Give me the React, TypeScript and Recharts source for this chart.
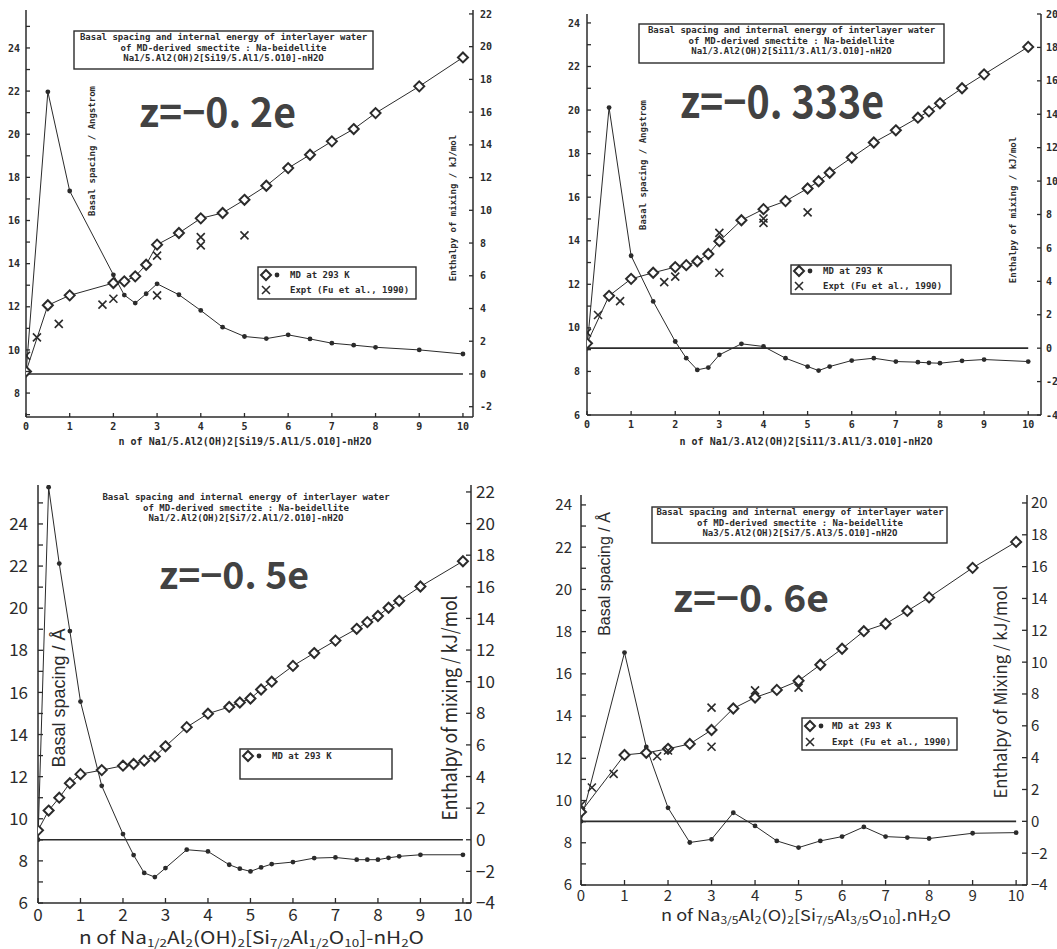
import React from "react";
import { ComposedChart, Line, Scatter, XAxis, YAxis, ReferenceLine } from "recharts";

const INK = "#2b2b2b";
const MONO = "'DejaVu Sans Mono', 'Liberation Mono', monospace";
const GOTHIC = "'Noto Sans CJK JP', 'Noto Sans', 'Liberation Sans', sans-serif";

// z = -0.2e
const n1 = [0, 0.5, 1, 2, 2.25, 2.5, 2.75, 3, 3.5, 4, 4.5, 5, 5.5, 6, 6.5, 7, 7.5, 8, 9, 10];
const spacing1 = [9.0, 12.07, 12.53, 13.1, 13.18, 13.41, 13.95, 14.88, 15.42, 16.1, 16.35, 16.96, 17.61, 18.43, 19.05, 19.67, 20.24, 20.98, 22.22, 23.56];
const enthalpy1 = [0, 17.24, 11.18, 6.06, 4.82, 4.33, 4.9, 5.51, 4.84, 3.88, 2.86, 2.29, 2.16, 2.39, 2.14, 1.88, 1.76, 1.63, 1.47, 1.22];
const exptN1 = [0, 0.25, 0.75, 1.75, 2, 3, 3, 4, 4, 5];
const exptD1 = [9.73, 10.58, 11.21, 12.1, 12.37, 14.37, 12.53, 15.23, 14.85, 15.31];

// z = -0.333e
const n2 = [0, 0.5, 1, 1.5, 2, 2.25, 2.5, 2.75, 3, 3.5, 4, 4.5, 5, 5.25, 5.5, 6, 6.5, 7, 7.5, 7.75, 8, 8.5, 9, 10];
const spacing2 = [9.29, 11.47, 12.25, 12.53, 12.79, 12.88, 13.06, 13.39, 13.98, 14.94, 15.45, 15.82, 16.4, 16.73, 17.12, 17.82, 18.51, 19.07, 19.65, 19.94, 20.31, 21.0, 21.64, 22.9];
const enthalpy2 = [0, 14.4, 5.53, 2.8, 0.4, -0.6, -1.3, -1.16, -0.4, 0.26, 0.1, -0.6, -1.1, -1.34, -1.1, -0.74, -0.6, -0.8, -0.84, -0.88, -0.9, -0.76, -0.68, -0.8];
const exptN2 = [0, 0.25, 0.75, 1.75, 2, 3, 3, 4, 4, 5];
const exptD2 = [9.78, 10.59, 11.23, 12.1, 12.35, 14.36, 12.53, 15.02, 14.82, 15.3];

// z = -0.5e
const n3 = [0, 0.25, 0.5, 0.75, 1, 1.5, 2, 2.25, 2.5, 2.75, 3, 3.5, 4, 4.5, 4.75, 5, 5.25, 5.5, 6, 6.5, 7, 7.5, 7.75, 8, 8.25, 8.5, 9, 10];
const spacing3 = [9.45, 10.39, 11.0, 11.69, 12.12, 12.31, 12.52, 12.6, 12.76, 12.96, 13.44, 14.35, 14.99, 15.31, 15.52, 15.71, 16.14, 16.51, 17.26, 17.87, 18.46, 19.02, 19.34, 19.63, 20.02, 20.35, 21.03, 22.23];
const enthalpy3 = [0, 22.3, 17.47, 13.2, 8.74, 3.41, 0.36, -0.97, -2.1, -2.36, -1.79, -0.63, -0.74, -1.58, -1.83, -2.0, -1.75, -1.54, -1.41, -1.16, -1.12, -1.26, -1.26, -1.26, -1.14, -1.05, -0.95, -0.95];

// z = -0.6e
const n4 = [0, 1, 1.5, 2, 2.5, 3, 3.5, 4, 4.5, 5, 5.5, 6, 6.5, 7, 7.5, 8, 9, 10];
const spacing4 = [9.46, 12.16, 12.26, 12.45, 12.68, 13.34, 14.36, 14.88, 15.24, 15.67, 16.43, 17.19, 18.02, 18.37, 18.98, 19.62, 21.02, 22.25];
const enthalpy4 = [0, 10.6, 4.67, 0.85, -1.33, -1.13, 0.54, -0.29, -1.23, -1.65, -1.23, -0.96, -0.35, -0.96, -1.02, -1.08, -0.75, -0.71];
const exptN4 = [0, 0.25, 0.75, 1.75, 2, 3, 3, 4, 5];
const exptD4 = [9.78, 10.62, 11.26, 12.1, 12.37, 14.4, 12.55, 15.22, 15.35];

const xTicks = [0, 1, 2, 3, 4, 5, 6, 7, 8, 9, 10];
const leftTicks1 = [7, 8, 9, 10, 11, 12, 13, 14, 15, 16, 17, 18, 19, 20, 21, 22, 23, 24, 25];
const rightTicks1 = [-2, 0, 2, 4, 6, 8, 10, 12, 14, 16, 18, 20, 22];
const leftTicks2 = [6, 7, 8, 9, 10, 11, 12, 13, 14, 15, 16, 17, 18, 19, 20, 21, 22, 23, 24];
const rightTicks2 = [-4, -2, 0, 2, 4, 6, 8, 10, 12, 14, 16, 18, 20];
const leftTicks3 = [6, 7, 8, 9, 10, 11, 12, 13, 14, 15, 16, 17, 18, 19, 20, 21, 22, 23, 24, 25];
const rightTicks3 = [-4, -2, 0, 2, 4, 6, 8, 10, 12, 14, 16, 18, 20, 22];
const leftTicks4 = [6, 7, 8, 9, 10, 11, 12, 13, 14, 15, 16, 17, 18, 19, 20, 21, 22, 23, 24];
const rightTicks4 = [-4, -2, 0, 2, 4, 6, 8, 10, 12, 14, 16, 18, 20];

// axis titles with subscripts: [text, isSubscript]
const formula3: [string, boolean][] = [["n of Na", false], ["1/2", true], ["Al", false], ["2", true], ["(OH)", false], ["2", true], ["[Si", false], ["7/2", true], ["Al", false], ["1/2", true], ["O", false], ["10", true], ["]-nH", false], ["2", true], ["O", false]];
const formula4: [string, boolean][] = [["n of Na", false], ["3/5", true], ["Al", false], ["2", true], ["(O)", false], ["2", true], ["[Si", false], ["7/5", true], ["Al", false], ["3/5", true], ["O", false], ["10", true], ["].nH", false], ["2", true], ["O", false]];

const Diamond = ({ cx, cy }: any) =>
  cx == null || cy == null ? null : (
    <path d={`M${cx},${cy - 5}L${cx + 5},${cy}L${cx},${cy + 5}L${cx - 5},${cy}Z`} fill="#fff" stroke={INK} strokeWidth={2} />
  );

const Dot = ({ cx, cy }: any) => (cx == null || cy == null ? null : <circle cx={cx} cy={cy} r={2.4} fill={INK} />);

const Cross = ({ cx, cy }: any) =>
  cx == null || cy == null ? null : (
    <path d={`M${cx - 4},${cy - 4}L${cx + 4},${cy + 4}M${cx - 4},${cy + 4}L${cx + 4},${cy - 4}`} stroke={INK} strokeWidth={1.6} />
  );

type TickStyle = {
  font: string;
  size: number;
  weight: number;
  gapL: number;
  gapR: number;
  gapX: number;
  len: number;
  minus: string;
};

const fmt = (v: number, minus: string) => (v < 0 ? minus + Math.abs(v) : String(v));

const yTick = (side: "left" | "right", st: TickStyle, labelled: (v: number) => boolean) => (p: any) => {
  const v = p.payload.value;
  const gap = side === "left" ? st.gapL : st.gapR;
  const ax = side === "left" ? p.x + gap : p.x - gap;
  const end = side === "left" ? ax + st.len : ax - st.len;
  return (
    <g key={`${side}-${v}`}>
      <line x1={ax} y1={p.y} x2={end} y2={p.y} stroke={INK} strokeWidth={1.3} />
      {labelled(v) && (
        <text x={p.x} y={p.y} dy="0.36em" textAnchor={side === "left" ? "end" : "start"} fontFamily={st.font} fontSize={st.size} fontWeight={st.weight} fill={INK}>
          {fmt(v, st.minus)}
        </text>
      )}
    </g>
  );
};

const xTick = (st: TickStyle) => (p: any) => {
  const v = p.payload.value;
  const ay = p.y - st.gapX;
  return (
    <g key={`x-${v}`}>
      <line x1={p.x} y1={ay} x2={p.x} y2={ay - st.len} stroke={INK} strokeWidth={1.3} />
      <text x={p.x} y={p.y} dy="0.74em" textAnchor="middle" fontFamily={st.font} fontSize={st.size} fontWeight={st.weight} fill={INK}>
        {v}
      </text>
    </g>
  );
};

interface PanelProps {
  left: number;
  top: number;
  width: number;
  height: number;
  margin: { top: number; right: number; bottom: number; left: number };
  lw: number;
  rw: number;
  xh: number;
  xMax: number;
  lDom: [number, number];
  rDom: [number, number];
  lTicks: number[];
  rTicks: number[];
  st: TickStyle;
  n: number[];
  spacing: number[];
  enthalpy: number[];
  exptN?: number[];
  exptD?: number[];
}

const Panel = (p: PanelProps) => {
  const rows = p.n.map((v, i) => ({ n: v, d: p.spacing[i], e: p.enthalpy[i] }));
  const expt = (p.exptN || []).map((v, i) => ({ n: v, d: (p.exptD || [])[i] }));
  const axisStyle = { stroke: INK, strokeWidth: 1.5 };
  return (
    <div style={{ position: "absolute", left: p.left, top: p.top }}>
      <ComposedChart width={p.width} height={p.height} data={rows} margin={p.margin}>
        <XAxis
          type="number"
          dataKey="n"
          domain={[0, p.xMax]}
          allowDataOverflow
          ticks={xTicks}
          interval={0}
          height={p.xh}
          tickSize={0}
          tickMargin={p.st.gapX}
          tickLine={false}
          axisLine={axisStyle}
          tick={xTick(p.st)}
        />
        <YAxis
          yAxisId="left"
          type="number"
          domain={p.lDom}
          allowDataOverflow
          ticks={p.lTicks}
          interval={0}
          width={p.lw}
          tickSize={0}
          tickMargin={p.st.gapL}
          tickLine={false}
          axisLine={axisStyle}
          tick={yTick("left", p.st, (v) => v % 2 === 0)}
        />
        <YAxis
          yAxisId="right"
          orientation="right"
          type="number"
          domain={p.rDom}
          allowDataOverflow
          ticks={p.rTicks}
          interval={0}
          width={p.rw}
          tickSize={0}
          tickMargin={p.st.gapR}
          tickLine={false}
          axisLine={axisStyle}
          tick={yTick("right", p.st, () => true)}
        />
        <ReferenceLine yAxisId="right" segment={[{ x: 0, y: 0 }, { x: 10, y: 0 }]} stroke={INK} strokeWidth={1.6} />
        <Line
          yAxisId="right"
          type="linear"
          dataKey="e"
          stroke={INK}
          strokeWidth={1}
          dot={(d: any) => <Dot key={`e${d.index}`} cx={d.cx} cy={d.cy} />}
          activeDot={false}
          isAnimationActive={false}
        />
        <Line
          yAxisId="left"
          type="linear"
          dataKey="d"
          stroke={INK}
          strokeWidth={1}
          dot={(d: any) => <Diamond key={`d${d.index}`} cx={d.cx} cy={d.cy} />}
          activeDot={false}
          isAnimationActive={false}
        />
        {expt.length > 0 && (
          <Scatter
            yAxisId="left"
            data={expt}
            dataKey="d"
            shape={(s: any) => <Cross cx={s.cx} cy={s.cy} />}
            isAnimationActive={false}
          />
        )}
      </ComposedChart>
    </div>
  );
};

const monoTick: TickStyle = { font: MONO, size: 10, weight: 700, gapL: 6, gapR: 7, gapX: 6, len: 4, minus: "-" };

const MonoText = ({ x, y, children, size = 9, anchor = "middle", rotate = false }: any) => (
  <text
    x={x}
    y={y}
    dy="0.35em"
    textAnchor={anchor}
    fontFamily={MONO}
    fontSize={size}
    fontWeight={700}
    fill={INK}
    transform={rotate ? `rotate(-90 ${x} ${y})` : undefined}
  >
    {children}
  </text>
);

const BigZ = ({ x, y, w, size, children }: any) => (
  <text x={x} y={y} textLength={w} lengthAdjust="spacingAndGlyphs" fontFamily={GOTHIC} fontSize={size} fontWeight={700} fill="#424242">
    {children}
  </text>
);

const SideTitle = ({ x, y, len, size, children }: any) => (
  <text
    x={x}
    y={y}
    dy="0.35em"
    textAnchor="middle"
    fontFamily={GOTHIC}
    fontSize={size}
    fill={INK}
    textLength={len}
    lengthAdjust="spacingAndGlyphs"
    transform={`rotate(-90 ${x} ${y})`}
  >
    {children}
  </text>
);

// "Basal spacing / Å" drawn without stretching, so the ring of Å stays on its letter
const SpacingTitle = ({ x, y, size }: any) => (
  <text
    x={x}
    y={y}
    dy="0.35em"
    textAnchor="middle"
    fontFamily="'Liberation Sans', 'DejaVu Sans', sans-serif"
    fontSize={size}
    fill={INK}
    transform={`rotate(-90 ${x} ${y})`}
  >
    Basal spacing / Å
  </text>
);

const Formula = ({ x, y, len, size, subSize, shift, parts }: any) => (
  <text x={x} y={y} fontFamily={GOTHIC} fontSize={size} fill={INK} textLength={len} lengthAdjust="spacingAndGlyphs">
    {parts.map(([t, sub]: [string, boolean], i: number) => {
      const prev = i > 0 && parts[i - 1][1];
      const dy = (sub ? shift : 0) - (prev ? shift : 0);
      return (
        <tspan key={i} dy={dy} fontSize={sub ? subSize : size}>
          {t}
        </tspan>
      );
    })}
  </text>
);

const TitleBlock = ({ cx, y0, formula, box }: any) => (
  <g>
    {box && <rect x={box[0]} y={box[1]} width={box[2]} height={box[3]} fill="#fff" stroke={INK} strokeWidth={1.4} />}
    <MonoText x={cx} y={y0}>Basal spacing and internal energy of interlayer water</MonoText>
    <MonoText x={cx} y={y0 + 10.5}>of MD-derived smectite : Na-beidellite</MonoText>
    <MonoText x={cx} y={y0 + 21}>{formula}</MonoText>
  </g>
);

const LegendBox = ({ x, y, w, h, r1, r2, expt, dx }: any) => (
  <g>
    <rect x={x} y={y} width={w} height={h} fill="#fff" stroke={INK} strokeWidth={1.4} />
    <Diamond cx={x + 8} cy={r1} />
    <Dot cx={x + 19} cy={r1} />
    <MonoText x={x + dx} y={r1} anchor="start">MD  at 293 K</MonoText>
    {expt && <Cross cx={x + 8} cy={r2} />}
    {expt && (
      <MonoText x={x + dx} y={r2} anchor="start">
        Expt (Fu et al., 1990)
      </MonoText>
    )}
  </g>
);

const Overlay = () => (
  <svg width={1057} height={949} style={{ position: "absolute", left: 0, top: 0, pointerEvents: "none" }}>
    {/* top left */}
    <TitleBlock cx={223.5} y0={37} box={[74, 31, 299, 38]} formula="Na1/5.Al2(OH)2[Si19/5.Al1/5.O10]-nH2O" />
    <BigZ x={139} y={127} w={157} size={40}>z=−0. 2e</BigZ>
    <MonoText x={92} y={151} rotate>Basal spacing / Angstrom</MonoText>
    <MonoText x={453} y={208} rotate>Enthalpy of mixing / kJ/mol</MonoText>
    <LegendBox x={258} y={267} w={158} h={32} r1={275} r2={290} expt dx={32} />
    <MonoText x={245} y={441} size={10}>n of Na1/5.Al2(OH)2[Si19/5.Al1/5.O10]-nH2O</MonoText>

    {/* top right */}
    <TitleBlock cx={791.5} y0={30} box={[639, 24, 305, 39]} formula="Na1/3.Al2(OH)2[Si11/3.Al1/3.O10]-nH2O" />
    <BigZ x={680} y={118} w={204} size={44}>z=−0. 333e</BigZ>
    <MonoText x={643} y={165} rotate>Basal spacing / Angstrom</MonoText>
    <MonoText x={1013} y={210} rotate>Enthalpy of mixing / kJ/mol</MonoText>
    <LegendBox x={791} y={265} w={160} h={29} r1={271} r2={286} expt dx={32} />
    <MonoText x={806} y={441} size={10}>n of Na1/3.Al2(OH)2[Si11/3.Al1/3.O10]-nH2O</MonoText>

    {/* bottom left */}
    <TitleBlock cx={246} y0={497} formula="Na1/2.Al2(OH)2[Si7/2.Al1/2.O10]-nH2O" />
    <BigZ x={159} y={589} w={150} size={37}>z=−0. 5e</BigZ>
    <SpacingTitle x={59} y={698} size={18} />
    <SideTitle x={450} y={708} len={225} size={20}>Enthalpy of mixing / kJ/mol</SideTitle>
    <LegendBox x={240} y={749} w={152} h={30} r1={756} r2={771} dx={32} />
    <Formula x={79} y={944} len={345} size={17} subSize={11} shift={3} parts={formula3} />

    {/* bottom right */}
    <TitleBlock cx={800} y0={512} box={[652, 507, 295, 36]} formula="Na3/5.Al2(OH)2[Si7/5.Al3/5.O10]-nH2O" />
    <BigZ x={673} y={612} w={156} size={37}>z=−0. 6e</BigZ>
    <SpacingTitle x={604} y={574} size={16} />
    <SideTitle x={1001} y={692} len={213} size={17}>Enthalpy of Mixing / kJ/mol</SideTitle>
    <LegendBox x={802} y={718} w={155} h={32} r1={726} r2={742} expt dx={30} />
    <Formula x={661} y={921} len={290} size={15} subSize={10} shift={3} parts={formula4} />
  </svg>
);

export default function App() {
  return (
    <div style={{ position: "absolute", left: 0, top: 0, width: 1057, height: 949, background: "#fff" }}>
      <Panel
        left={0}
        top={0}
        width={530}
        height={450}
        margin={{ top: 10, right: 7, bottom: 10, left: 0 }}
        lw={26}
        rw={50}
        xh={23}
        xMax={10.23}
        lDom={[6.89, 25.76]}
        rDom={[-2.63, 22.24]}
        lTicks={leftTicks1}
        rTicks={rightTicks1}
        st={monoTick}
        n={n1}
        spacing={spacing1}
        enthalpy={enthalpy1}
        exptN={exptN1}
        exptD={exptD1}
      />
      <Panel
        left={530}
        top={0}
        width={527}
        height={450}
        margin={{ top: 14, right: 0, bottom: 10, left: 0 }}
        lw={57}
        rw={16}
        xh={25}
        xMax={10.29}
        lDom={[6, 24.41]}
        rDom={[-4, 20]}
        lTicks={leftTicks2}
        rTicks={rightTicks2}
        st={{ ...monoTick, gapL: 7, gapR: 5 }}
        n={n2}
        spacing={spacing2}
        enthalpy={enthalpy2}
        exptN={exptN2}
        exptD={exptD2}
      />
      <Panel
        left={0}
        top={470}
        width={530}
        height={479}
        margin={{ top: 15, right: 9, bottom: 20, left: 0 }}
        lw={38}
        rw={50}
        xh={26}
        xMax={10.19}
        lDom={[6, 25.85]}
        rDom={[-4, 22.44]}
        lTicks={leftTicks3}
        rTicks={rightTicks3}
        st={{ font: GOTHIC, size: 17, weight: 400, gapL: 10, gapR: 5, gapX: 5, len: 5, minus: "−" }}
        n={n3}
        spacing={spacing3}
        enthalpy={enthalpy3}
      />
      <Panel
        left={530}
        top={470}
        width={527}
        height={479}
        margin={{ top: 25, right: 0, bottom: 39, left: 0 }}
        lw={51}
        rw={30}
        xh={25}
        xMax={10.25}
        lDom={[6, 24.47]}
        rDom={[-4, 20.5]}
        lTicks={leftTicks4}
        rTicks={rightTicks4}
        st={{ font: GOTHIC, size: 15, weight: 400, gapL: 9, gapR: 4, gapX: 5, len: 5, minus: "−" }}
        n={n4}
        spacing={spacing4}
        enthalpy={enthalpy4}
        exptN={exptN4}
        exptD={exptD4}
      />
      <Overlay />
    </div>
  );
}
